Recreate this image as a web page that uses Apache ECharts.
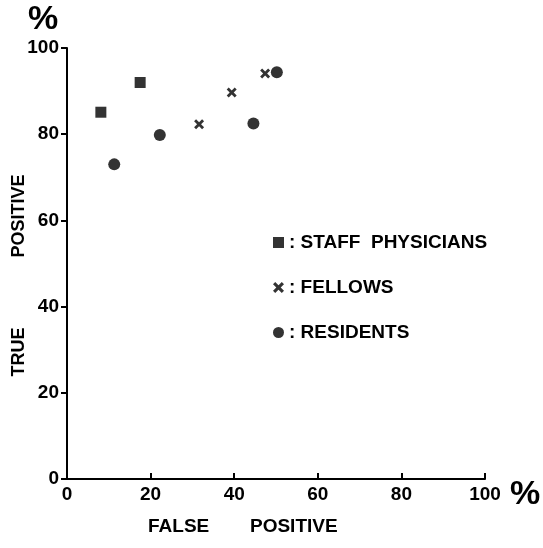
<!DOCTYPE html>
<html>
<head>
<meta charset="utf-8">
<script src="https://cdn.jsdelivr.net/npm/echarts@6/dist/echarts.min.js"></script>
<style>
html,body{margin:0;padding:0;background:#fff;}
#chart{width:543px;height:548px;}
</style>
</head>
<body>
<div id="chart"></div>
<script>
// false positive % , true positive %
var staffX = [8.1, 17.5];
var staffY = [85.1, 92.0];
var fellowsX = [31.6, 39.4, 47.4];
var fellowsY = [82.3, 89.7, 94.1];
var residentsX = [11.3, 22.2, 44.6, 50.2];
var residentsY = [73.0, 79.8, 82.5, 94.4];

var crossPath = 'path://M0,2 L2,0 L5,3 L8,0 L10,2 L7,5 L10,8 L8,10 L5,7 L2,10 L0,8 L3,5 Z';
var font = 'Liberation Sans';

function pairs(xs, ys){
  var out = [];
  for(var i=0;i<xs.length;i++){ out.push([xs[i], ys[i]]); }
  return out;
}

var chart = echarts.init(document.getElementById('chart'));
chart.setOption({
  animation:false,
  grid:{left:67, right:58, top:48, bottom:69},
  legend:{
    orient:'vertical',
    left:268, top:228,
    itemGap:26,
    itemWidth:11, itemHeight:11,
    textStyle:{fontFamily:font, fontWeight:'bold', fontSize:19, color:'#000'},
    formatter:function(name){ return ': ' + name; },
    data:[
      {name:'STAFF  PHYSICIANS', icon:'rect'},
      {name:'FELLOWS', icon:crossPath},
      {name:'RESIDENTS', icon:'circle'}
    ]
  },
  xAxis:{
    type:'value', min:0, max:100, interval:20,
    axisLine:{show:true, lineStyle:{color:'#000', width:2}},
    axisTick:{show:true, inside:true, length:6, lineStyle:{color:'#000', width:2}},
    axisLabel:{margin:6, fontFamily:font, fontWeight:'bold', fontSize:19, color:'#000'},
    splitLine:{show:false}
  },
  yAxis:{
    type:'value', min:0, max:100, interval:20,
    axisLine:{show:true, lineStyle:{color:'#000', width:2}},
    axisTick:{show:true, length:6, lineStyle:{color:'#000', width:2}},
    axisLabel:{margin:8, fontFamily:font, fontWeight:'bold', fontSize:19, color:'#000'},
    splitLine:{show:false}
  },
  graphic:[
    {type:'text', left:28, top:3, style:{text:'%', fontFamily:font, fontWeight:'bold', fontSize:34, fill:'#000'}},
    {type:'text', left:510, top:478, style:{text:'%', fontFamily:font, fontWeight:'bold', fontSize:34, fill:'#000'}},
    {type:'text', left:148, top:517, style:{text:'FALSE', fontFamily:font, fontWeight:'bold', fontSize:19, fill:'#000'}},
    {type:'text', left:250, top:517, style:{text:'POSITIVE', fontFamily:font, fontWeight:'bold', fontSize:19, fill:'#000'}},
    {type:'text', x:10, y:352, rotation:Math.PI/2, style:{text:'TRUE', fontFamily:font, fontWeight:'bold', fontSize:18, fill:'#000', align:'center', verticalAlign:'top'}},
    {type:'text', x:10, y:216, rotation:Math.PI/2, style:{text:'POSITIVE', fontFamily:font, fontWeight:'bold', fontSize:18, fill:'#000', align:'center', verticalAlign:'top'}}
  ],
  series:[
    {name:'STAFF  PHYSICIANS', type:'scatter', symbol:'rect', symbolSize:11,
     itemStyle:{color:'#000'}, data:pairs(staffX, staffY)},
    {name:'FELLOWS', type:'scatter', symbol:crossPath, symbolSize:10,
     itemStyle:{color:'#000'}, data:pairs(fellowsX, fellowsY)},
    {name:'RESIDENTS', type:'scatter', symbol:'circle', symbolSize:12,
     itemStyle:{color:'#000'}, data:pairs(residentsX, residentsY)}
  ]
});
</script>
</body>
</html>
